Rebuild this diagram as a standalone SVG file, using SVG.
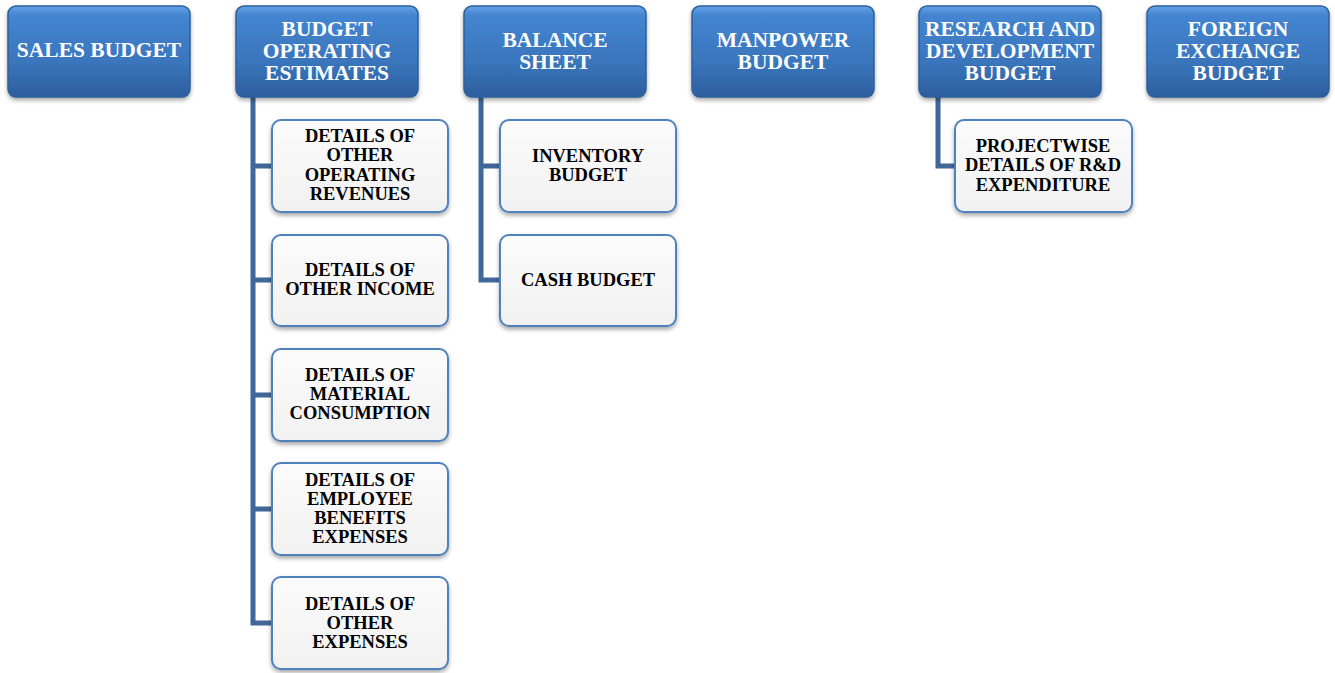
<svg xmlns="http://www.w3.org/2000/svg" width="1335" height="673" viewBox="0 0 1335 673">
<defs>
<linearGradient id="gBlue" x1="0" y1="0" x2="0" y2="1">
<stop offset="0" stop-color="#62a2e6"/>
<stop offset="0.1" stop-color="#4485d1"/>
<stop offset="0.6" stop-color="#3a76bd"/>
<stop offset="1" stop-color="#2c5f9e"/>
</linearGradient>
<linearGradient id="gLight" x1="0" y1="0" x2="0" y2="1">
<stop offset="0" stop-color="#fbfbfb"/>
<stop offset="1" stop-color="#f1f1f1"/>
</linearGradient>
<filter id="sh" x="-10%" y="-10%" width="120%" height="130%">
<feDropShadow dx="0" dy="2.5" stdDeviation="2" flood-color="#000" flood-opacity="0.35"/>
</filter>
<style>
.top{fill:url(#gBlue);stroke:#2f5f99;stroke-width:1.5;filter:url(#sh)}
.child{fill:url(#gLight);stroke:#4f81bd;stroke-width:2;filter:url(#sh)}
.tt{font-family:"Liberation Serif","Times New Roman",serif;font-weight:bold;font-size:21.5px;fill:#fff;text-anchor:middle}
.ct{font-family:"Liberation Serif","Times New Roman",serif;font-weight:bold;font-size:18.5px;fill:#000;text-anchor:middle}
.conn{fill:none;stroke:#41679a;stroke-width:5}
</style>
</defs>
<g id="connectors">
<path class="conn" d="M253,97 V623 H272 M253,166 H272 M253,280 H272 M253,395 H272 M253,509 H272"/>
<path class="conn" d="M481,97 V280 H500 M481,166 H500"/>
<path class="conn" d="M938,97 V166 H955"/>
</g>
<g id="sales-budget">
<rect class="top" x="8" y="6" width="182" height="91" rx="8"/>
<text class="tt" x="99" y="57">SALES BUDGET</text>
</g>
<g id="budget-operating-estimates">
<rect class="top" x="236" y="6" width="182" height="91" rx="8"/>
<text class="tt" x="327" y="36">BUDGET</text>
<text class="tt" x="327" y="58">OPERATING</text>
<text class="tt" x="327" y="80">ESTIMATES</text>
</g>
<g id="balance-sheet">
<rect class="top" x="464" y="6" width="182" height="91" rx="8"/>
<text class="tt" x="555" y="47">BALANCE</text>
<text class="tt" x="555" y="69">SHEET</text>
</g>
<g id="manpower-budget">
<rect class="top" x="692" y="6" width="182" height="91" rx="8"/>
<text class="tt" x="783" y="47">MANPOWER</text>
<text class="tt" x="783" y="69">BUDGET</text>
</g>
<g id="rd-budget">
<rect class="top" x="919" y="6" width="182" height="91" rx="8"/>
<text class="tt" x="1010" y="36">RESEARCH AND</text>
<text class="tt" x="1010" y="58">DEVELOPMENT</text>
<text class="tt" x="1010" y="80">BUDGET</text>
</g>
<g id="foreign-exchange-budget">
<rect class="top" x="1147" y="6" width="182" height="91" rx="8"/>
<text class="tt" x="1238" y="36">FOREIGN</text>
<text class="tt" x="1238" y="58">EXCHANGE</text>
<text class="tt" x="1238" y="80">BUDGET</text>
</g>
<g id="other-operating-revenues">
<rect class="child" x="272" y="120" width="176" height="92" rx="9"/>
<text class="ct" x="360" y="142">DETAILS OF</text>
<text class="ct" x="360" y="161">OTHER</text>
<text class="ct" x="360" y="181">OPERATING</text>
<text class="ct" x="360" y="200">REVENUES</text>
</g>
<g id="other-income">
<rect class="child" x="272" y="235" width="176" height="91" rx="9"/>
<text class="ct" x="360" y="276">DETAILS OF</text>
<text class="ct" x="360" y="295">OTHER INCOME</text>
</g>
<g id="material-consumption">
<rect class="child" x="272" y="349" width="176" height="92" rx="9"/>
<text class="ct" x="360" y="381">DETAILS OF</text>
<text class="ct" x="360" y="400">MATERIAL</text>
<text class="ct" x="360" y="419">CONSUMPTION</text>
</g>
<g id="employee-benefits">
<rect class="child" x="272" y="463" width="176" height="92" rx="9"/>
<text class="ct" x="360" y="486">DETAILS OF</text>
<text class="ct" x="360" y="505">EMPLOYEE</text>
<text class="ct" x="360" y="524">BENEFITS</text>
<text class="ct" x="360" y="543">EXPENSES</text>
</g>
<g id="other-expenses">
<rect class="child" x="272" y="577" width="176" height="92" rx="9"/>
<text class="ct" x="360" y="610">DETAILS OF</text>
<text class="ct" x="360" y="629">OTHER</text>
<text class="ct" x="360" y="648">EXPENSES</text>
</g>
<g id="inventory-budget">
<rect class="child" x="500" y="120" width="176" height="92" rx="9"/>
<text class="ct" x="588" y="162">INVENTORY</text>
<text class="ct" x="588" y="181">BUDGET</text>
</g>
<g id="cash-budget">
<rect class="child" x="500" y="235" width="176" height="91" rx="9"/>
<text class="ct" x="588" y="286">CASH BUDGET</text>
</g>
<g id="projectwise-rd">
<rect class="child" x="955" y="120" width="177" height="92" rx="9"/>
<text class="ct" x="1043" y="152">PROJECTWISE</text>
<text class="ct" x="1043" y="171">DETAILS OF R&amp;D</text>
<text class="ct" x="1043" y="191">EXPENDITURE</text>
</g>
</svg>
